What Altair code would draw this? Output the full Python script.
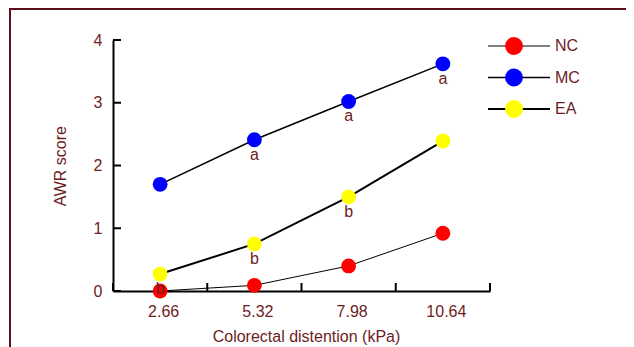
import altair as alt
import pandas as pd

# ---- data ----
categories = ["2.66", "5.32", "7.98", "10.64"]
series_names = ["NC", "MC", "EA"]
series_colors = ["#ff0000", "#0000ff", "#ffff00"]
series_widths = [1, 2, 2]
nc_values = [0.0, 0.09, 0.40, 0.92]
mc_values = [1.70, 2.41, 3.02, 3.62]
ea_values = [0.27, 0.75, 1.50, 2.39]
nc_letters = ["", "", "", ""]
mc_letters = ["", "a", "a", "a"]
ea_letters = ["b", "b", "b", ""]
y_tick_values = [0, 1, 2, 3, 4]

MAROON = "#6b1e24"
FONT = "Liberation Sans"

rows = []
for name, vals, lets in [("MC", mc_values, mc_letters), ("EA", ea_values, ea_letters), ("NC", nc_values, nc_letters)]:
    for i, (v, l) in enumerate(zip(vals, lets)):
        rows.append({"series": name, "pos": i + 0.5, "value": v, "letter": l})
df = pd.DataFrame(rows)

xtick_df = pd.DataFrame({"pos": list(range(len(categories) + 1))})
ytick_df = pd.DataFrame({"value": y_tick_values})
legend_df = pd.DataFrame({"series": series_names})

W, H = 377, 251

label_expr = "[" + ",".join("'%s'" % c for c in categories) + "][floor(datum.value)]"

X = alt.X(
    "pos:Q",
    scale=alt.Scale(domain=[0, len(categories)], nice=False, zero=False),
    axis=alt.Axis(
        values=[i + 0.5 for i in range(len(categories))],
        labelExpr=label_expr,
        ticks=False,
        grid=False,
        domainColor="black",
        domainWidth=2,
        labelPadding=12,
        labelOffset=3,
        title="Colorectal distention (kPa)",
        titleX=193,
        titleY=45,
        titleBaseline="middle",
        titleAlign="center",
    ),
)
Y = alt.Y(
    "value:Q",
    scale=alt.Scale(domain=[0, 4], nice=False),
    axis=alt.Axis(
        values=y_tick_values,
        ticks=False,
        grid=False,
        domainColor="black",
        domainWidth=2,
        labelPadding=11,
        title="AWR score",
        titleX=-53,
        titleY=W / 3,
        titleBaseline="middle",
        titleAlign="center",
        titleAngle=-90,
    ),
)
COLOR = alt.Color("series:N", scale=alt.Scale(domain=series_names, range=series_colors), legend=None)
SW = alt.StrokeWidth("series:N", scale=alt.Scale(domain=series_names, range=series_widths), legend=None)

lines = alt.Chart(df).mark_line(color="black").encode(x=X, y=Y, detail="series:N", strokeWidth=SW)
points = alt.Chart(df).mark_circle(size=220, opacity=1).encode(x=X, y=Y, color=COLOR)
letters = alt.Chart(df).mark_text(dy=15, baseline="middle", font=FONT, fontSize=16, color=MAROON).encode(
    x=X, y=Y, text="letter:N"
)
xticks = alt.Chart(xtick_df).mark_rule(color="black", strokeWidth=2).encode(
    x=X, y=alt.value(H), y2=alt.value(H - 8)
)
yticks = alt.Chart(ytick_df).mark_rule(color="black", strokeWidth=2).encode(
    y=Y, x=alt.value(0), x2=alt.value(8)
)
main = alt.layer(lines, points, letters, xticks, yticks)

LY = alt.Y("series:N", scale=alt.Scale(type="point", domain=series_names, range=[6, 69], padding=0), axis=None)
leg_line = alt.Chart(legend_df).mark_rule(color="black").encode(
    x=alt.value(375), x2=alt.value(437), y=LY, strokeWidth=SW
)
leg_point = alt.Chart(legend_df).mark_circle(size=320, opacity=1).encode(x=alt.value(401), y=LY, color=COLOR)
leg_text = alt.Chart(legend_df).mark_text(align="left", baseline="middle", font=FONT, fontSize=16, color=MAROON).encode(
    x=alt.value(442), y=LY, text="series:N"
)
legend = alt.layer(leg_line, leg_point, leg_text)

frame_data = alt.Data(values=[{}])
frame_top = alt.Chart(frame_data).mark_rule(color="#5c0f1a", strokeWidth=2).encode(
    x=alt.value(-104), x2=alt.value(600), y=alt.value(-31)
)
frame_left = alt.Chart(frame_data).mark_rule(color="#5c0f1a", strokeWidth=2).encode(
    x=alt.value(-103), y=alt.value(-32), y2=alt.value(400)
)

chart = (
    alt.layer(main, legend, frame_top, frame_left)
    .resolve_scale(y="independent")
    .properties(
        width=W,
        height=H,
        padding={"left": 105, "top": 32, "right": 136, "bottom": 56},
        autosize=alt.AutoSizeParams(type="none"),
        background="white",
    )
    .configure_view(stroke=None)
    .configure_axis(
        labelFont=FONT,
        labelFontSize=16,
        labelColor=MAROON,
        titleFont=FONT,
        titleFontSize=16,
        titleColor=MAROON,
        titleFontWeight="normal",
    )
)

chart.save("out.html", embed_options={"renderer": "svg", "actions": False})
